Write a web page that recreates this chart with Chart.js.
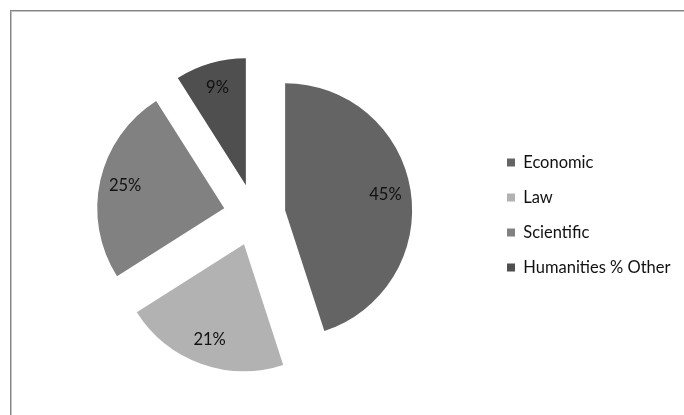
<!DOCTYPE html>
<html>
<head>
<meta charset="utf-8">
<script src="https://cdn.jsdelivr.net/npm/chart.js@4/dist/chart.umd.min.js"></script>
<style>
  html, body { margin: 0; padding: 0; background: #fff; overflow: hidden; }
  #wrap { position: relative; width: 684px; height: 415px; }
  #frame {
    position: absolute; left: 10px; top: 10px; width: 700px; height: 430px;
    border-top: 1px solid #858585; border-left: 1px solid #858585;
    box-shadow: inset 1px 1px 0 #c4c4c4;
  }
  canvas { position: absolute; left: 0; top: 0; }
</style>
</head>
<body>
<div id="wrap">
  <div id="frame"></div>
  <canvas id="c" width="684" height="415"></canvas>
</div>
<script>
// Share of enrolment by field
const categories = ['Economic', 'Law', 'Scientific', 'Humanities % Other'];
const shares = [45, 21, 25, 9];
const sliceColors = ['#646464', '#b2b2b2', '#818181', '#4f4f4f'];

const FONT = "Lato, 'Liberation Sans', sans-serif";
const FONT_SIZE = 16.5;
const BOX = 8;
const ROW_PAD = 18.5;
const PIE_RADIUS = 127;
const EXPLODE = 31;     // every slice pulled out by the same distance

// Size the right-hand padding so the legend swatches line up at x = 507
const mctx = document.createElement('canvas').getContext('2d');
mctx.font = FONT_SIZE + 'px ' + FONT;
const widest = Math.max(...categories.map(t => mctx.measureText(t).width));
const padRight = 684 - 507 - 10 - BOX - FONT_SIZE / 2 - widest;
const areaRight = 507 - ROW_PAD;
const padLeft = 2 * 254.5 - areaRight;

// Pull each slice straight out along its bisector by a fixed distance
const explode = {
  id: 'explode',
  beforeDatasetsDraw(chart) {
    chart.getDatasetMeta(0).data.forEach(arc => {
      if (arc.__exploded) return;
      const baseDraw = arc.draw.bind(arc);
      arc.draw = function (ctx, area) {
        const mid = (this.startAngle + this.endAngle) / 2;
        ctx.save();
        ctx.translate(Math.cos(mid) * EXPLODE, Math.sin(mid) * EXPLODE);
        baseDraw(ctx, area);
        ctx.restore();
      };
      arc.__exploded = true;
    });
  }
};

// Percentage labels inside each slice
const sliceLabels = {
  id: 'sliceLabels',
  afterDatasetsDraw(chart) {
    const ctx = chart.ctx;
    const meta = chart.getDatasetMeta(0);
    ctx.save();
    ctx.font = FONT_SIZE + 'px ' + FONT;
    ctx.fillStyle = '#111';
    ctx.textAlign = 'center';
    ctx.textBaseline = 'middle';
    meta.data.forEach((arc, i) => {
      const p = arc.getProps(['x', 'y', 'startAngle', 'endAngle', 'outerRadius'], true);
      const mid = (p.startAngle + p.endAngle) / 2;
      const r = EXPLODE + p.outerRadius * 0.8;
      ctx.fillText(shares[i] + '%', p.x + Math.cos(mid) * r, p.y + Math.sin(mid) * r);
    });
    ctx.restore();
  }
};

new Chart(document.getElementById('c'), {
  type: 'pie',
  data: {
    labels: categories,
    datasets: [{
      data: shares,
      backgroundColor: sliceColors,
      borderWidth: 0,
      offset: 0,
      hoverOffset: 0
    }]
  },
  options: {
    responsive: false,
    animation: false,
    devicePixelRatio: 1,
    radius: PIE_RADIUS,
    layout: { padding: { left: padLeft, right: padRight, top: 15, bottom: 0 } },
    plugins: {
      legend: {
        position: 'right',
        align: 'center',
        labels: {
          boxWidth: BOX,
          boxHeight: BOX,
          padding: ROW_PAD,
          color: '#111',
          font: { family: FONT, size: FONT_SIZE }
        }
      },
      tooltip: { enabled: false }
    }
  },
  plugins: [explode, sliceLabels]
});
</script>
</body>
</html>
